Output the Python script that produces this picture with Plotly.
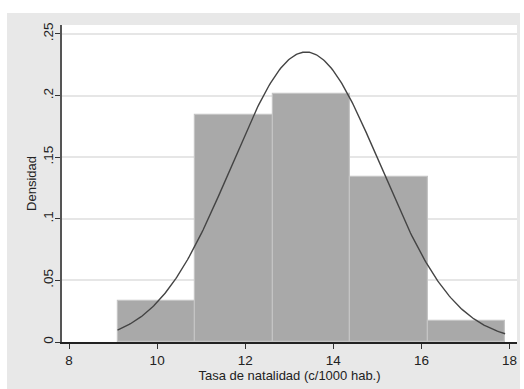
import numpy as np
import plotly.graph_objects as go

# Histogram data
bin_edges = [9.1, 10.86, 12.62, 14.38, 16.14, 17.9]
densities = [0.0335, 0.184, 0.201, 0.134, 0.0173]

# Fitted normal curve parameters
mean = 13.38
sd = 1.695

x_ticks = [8, 10, 12, 14, 16, 18]
y_ticks = [0, 0.05, 0.10, 0.15, 0.20, 0.25]
y_ticktext = ["0", ".05", ".1", ".15", ".2", ".25"]

centers = [(a + b) / 2 for a, b in zip(bin_edges[:-1], bin_edges[1:])]
widths = [b - a for a, b in zip(bin_edges[:-1], bin_edges[1:])]

xs = np.linspace(bin_edges[0], bin_edges[-1], 300)
pdf = np.exp(-0.5 * ((xs - mean) / sd) ** 2) / (sd * np.sqrt(2 * np.pi))

fig = go.Figure()
fig.add_trace(go.Bar(
    x=centers, y=densities, width=widths,
    marker=dict(color="#a9a9a9", line=dict(color="#c4c4c4", width=1.2)),
    showlegend=False,
))
fig.add_trace(go.Scatter(
    x=xs, y=pdf, mode="lines",
    line=dict(color="#444444", width=1.4),
    showlegend=False,
))

L, R, T, B = 62, 7, 25, 47
W, H = 524, 389
pw, ph = W - L - R, H - T - B

def px_x(p):
    return (p - L) / pw

def px_y(p):
    return (H - B - p) / ph

# white outer strips around the gray frame
for x0, x1, y0, y1 in [(0, 7, 0, H), (520, W, 0, H), (0, W, 0, 13)]:
    fig.add_shape(type="rect", xref="paper", yref="paper", layer="above",
                  x0=px_x(x0), x1=px_x(x1), y0=px_y(y1), y1=px_y(y0),
                  fillcolor="white", line=dict(width=0))

fig.update_layout(
    width=W, height=H,
    margin=dict(l=L, r=R, t=T, b=B, pad=0),
    paper_bgcolor="#e8e8e8",
    plot_bgcolor="white",
    font=dict(family="Liberation Sans, Arial, sans-serif", size=13, color="#222222"),
    bargap=0,
    xaxis=dict(
        range=[7.84, 18.17],
        tickvals=x_ticks,
        ticks="outside", ticklen=5, tickcolor="#333333", tickwidth=1,
        showline=True, linecolor="#222222", linewidth=1.5,
        showgrid=False, zeroline=False,
        title=dict(text="Tasa de natalidad (c/1000 hab.)", standoff=2,
                   font=dict(size=13)),
        tickfont=dict(size=13.5),
    ),
    yaxis=dict(
        range=[0, 0.2573],
        tickvals=y_ticks, ticktext=y_ticktext,
        tickangle=-90,
        ticks="outside", ticklen=5, tickcolor="#333333", tickwidth=1,
        ticklabelstandoff=-3,
        showline=True, linecolor="#555555", linewidth=2,
        showgrid=True, gridcolor="#e6e6e6", gridwidth=1.5,
        zeroline=False,
        title=dict(text="Densidad", standoff=1, font=dict(size=13)),
        tickfont=dict(size=13.5),
    ),
)

fig.write_html("out.html")
